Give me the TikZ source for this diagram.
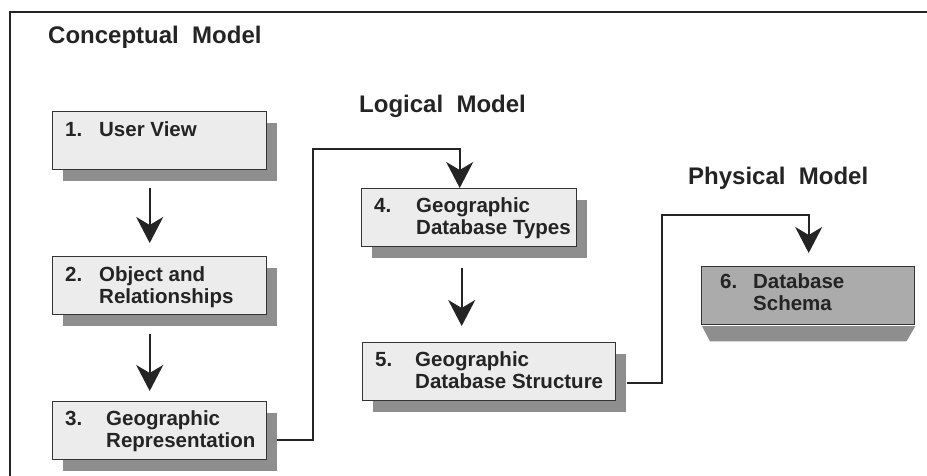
\documentclass[tikz,border=0pt]{standalone}
\usepackage{fontspec}
\setmainfont{Liberation Sans}
\usetikzlibrary{arrows.meta,calc,shadows}
\definecolor{boxfill}{HTML}{ECECEC}
\definecolor{darkfill}{HTML}{ABABAB}
\definecolor{shadowgray}{HTML}{8E8E8E}
\definecolor{ink}{HTML}{242424}
\definecolor{edgec}{HTML}{333333}
\begin{document}
\begin{tikzpicture}[x=1pt,y=-1pt,
  box/.style={draw=edgec, line width=1.4pt, fill=boxfill, minimum width=214pt, minimum height=58pt,
    anchor=north west, inner sep=0pt,
    drop shadow={shadow xshift=10pt, shadow yshift=-11pt, opacity=1, fill=shadowgray}},
  darkbox/.style={draw=edgec, line width=1.4pt, fill=darkfill, minimum width=213pt, minimum height=58pt,
    anchor=north west, inner sep=0pt},
  lbl/.style={anchor=base west, inner sep=0pt, text=ink, font=\fontsize{20.5}{22.5}\selectfont\bfseries},
  head/.style={anchor=base west, inner sep=0pt, text=ink, font=\fontsize{24}{26}\selectfont\bfseries},
  link/.style={draw=ink, line width=2.2pt},
  arr/.style={link, -{Stealth[length=26pt, width=27pt, inset=8pt]}}]
\useasboundingbox (0,0) rectangle (927,476);
\fill[white] (0,0) rectangle (927,476);
% frame
\draw[line width=2.5pt, ink] (927,12) -- (10,12) -- (10,476);
% headings
\node[head] (hc) at (48,44) {Conceptual\ \ Model};
\node[head] (hl) at (359,113) {Logical\ \ Model};
\node[head] (hp) at (688,185) {Physical\ \ Model};
% boxes
\node[box] (b1) at (52,111) {};
\node[box] (b2) at (52,256) {};
\node[box] (b3) at (52,401) {};
\node[box, minimum width=215pt] (b4) at (361,188) {};
\node[box, minimum width=253pt] (b5) at (362,342) {};
\node[darkbox] (b6) at (701,266) {};
\fill[shadowgray] ($(b6.south west)+(1,0.7)$) -- ($(b6.south east)+(0,0.7)$) -- ($(b6.south east)+(-9,16)$) -- ($(b6.south west)+(9,16)$) -- cycle;
% labels
\node[lbl] (t1) at ($(b1.north west)+(13,26)$) {\begin{tabular}[t]{@{}p{34pt}@{}l@{}}1. & User View\end{tabular}};
\node[lbl] (t2) at ($(b2.north west)+(13,25)$) {\begin{tabular}[t]{@{}p{34pt}@{}l@{}}2. & Object and\\ & Relationships\end{tabular}};
\node[lbl] (t3) at ($(b3.north west)+(13,24)$) {\begin{tabular}[t]{@{}p{41pt}@{}l@{}}3. & Geographic\\ & Representation\end{tabular}};
\node[lbl] (t4) at ($(b4.north west)+(13,24)$) {\begin{tabular}[t]{@{}p{42pt}@{}l@{}}4. & Geographic\\ & Database Types\end{tabular}};
\node[lbl] (t5) at ($(b5.north west)+(13,24)$) {\begin{tabular}[t]{@{}p{40pt}@{}l@{}}5. & Geographic\\ & Database Structure\end{tabular}};
\node[lbl] (t6) at ($(b6.north west)+(19,22)$) {\begin{tabular}[t]{@{}p{33pt}@{}l@{}}6. & Database\\ & Schema\end{tabular}};
% bend points
\coordinate (k1) at (313,149);
\coordinate (k2) at (662,215);
% connectors
\draw[arr, shorten <=18pt, shorten >=13pt] ($(b1.south)+(-10,0)$) -- ($(b2.north)+(-10,0)$);
\draw[arr, shorten <=19pt, shorten >=10pt] ($(b2.south)+(-10,0)$) -- ($(b3.north)+(-10,0)$);
\draw[arr, shorten <=21pt, shorten >=16pt] ($(b4.south)+(-7.5,0)$) -- ($(b5.north)+(-27.5,0)$);
\draw[arr] ($(b3.east)+(10,9)$) -| (k1) -| ($(b4.north)+(-9.5,0)$);
\draw[arr, shorten >=13pt] ($(b5.east)+(11,11)$) -| (k2) -| ($(b6.north)+(0.5,0)$);
\end{tikzpicture}
\end{document}
